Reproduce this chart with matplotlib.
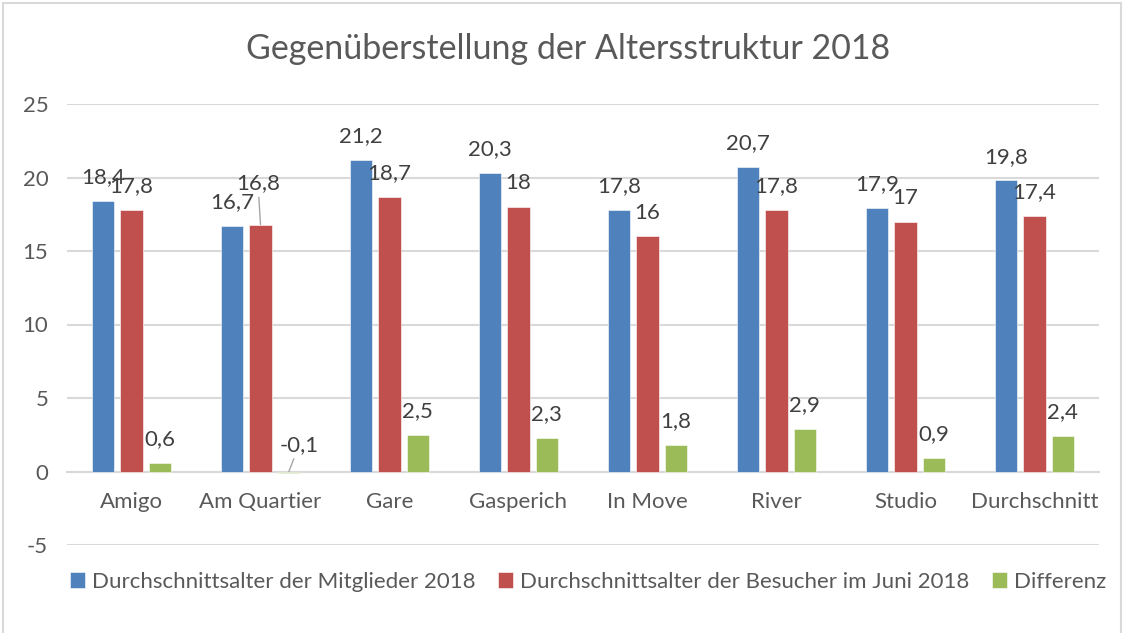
import numpy as np
import matplotlib
matplotlib.use("Agg")
import matplotlib.pyplot as plt
from matplotlib.lines import Line2D

kategorien = ["Amigo", "Am Quartier", "Gare", "Gasperich", "In Move", "River", "Studio", "Durchschnitt"]
mitglieder = [18.4, 16.7, 21.2, 20.3, 17.8, 20.7, 17.9, 19.8]
besucher = [17.8, 16.8, 18.7, 18.0, 16.0, 17.8, 17.0, 17.4]
differenz = [0.6, -0.1, 2.5, 2.3, 1.8, 2.9, 0.9, 2.4]
serien = ["Durchschnittsalter der Mitglieder 2018",
          "Durchschnittsalter der Besucher im Juni 2018",
          "Differenz"]
farben = ["#4F81BD", "#C0504D", "#9BBB59"]

plt.rcParams['font.family'] = ['Lato', 'DejaVu Sans']
plt.rcParams['axes.unicode_minus'] = False
textfarbe = "#404040"
achsfarbe = "#595959"
gitter = "#d9d9d9"
fs = 16

fig = plt.figure(figsize=(11.24, 6.33), dpi=100)
ax = fig.add_axes([67/1124, 1-545/633, (1099-67)/1124, (545-104)/633])

x = np.arange(len(kategorien))
breite = 0.174
abstand = 0.22

def label(v):
    return ("%g" % v).replace(".", ",")

# manuell verschobene Beschriftungen (Serie, Index) -> Offset in pt, mit Linie
verschoben = {(1, 1): (-1.8, 25.5), (2, 1): (7.5, 15)}

for i, (werte, farbe) in enumerate(zip([mitglieder, besucher, differenz], farben)):
    pos = x + (i - 1) * abstand
    ax.bar(pos, werte, breite, color=farbe, edgecolor="white", linewidth=0.4, label=serien[i], zorder=3)
    for j, (px, v) in enumerate(zip(pos, werte)):
        top = max(v, 0)
        if (i, j) in verschoben:
            dx, dy = verschoben[(i, j)]
            ax.annotate(label(v), (px, top), xytext=(dx, dy), textcoords="offset points",
                        ha="center", va="baseline", fontsize=fs, color=textfarbe,
                        arrowprops=dict(arrowstyle="-", color="#a6a6a6", lw=1,
                                        shrinkA=1, shrinkB=0))
        else:
            ax.annotate(label(v), (px, top), xytext=(0, 12.8), textcoords="offset points",
                        ha="center", va="baseline", fontsize=fs, color=textfarbe)

ax.set_xlim(-0.5, len(kategorien) - 0.5)
ax.set_ylim(-5, 25)
ax.set_yticks(np.arange(-5, 26, 5))
ax.yaxis.grid(True, color=gitter, lw=1.5, zorder=0)
ax.set_axisbelow(True)
for s in ["left", "right", "top"]:
    ax.spines[s].set_visible(False)
ax.spines["bottom"].set_position(("data", 0))
ax.spines["bottom"].set_color(gitter)
ax.spines["bottom"].set_linewidth(1.5)
ax.set_xticks(x)
ax.set_xticklabels(kategorien)
ax.tick_params(axis="x", length=0, pad=15, labelsize=fs, labelcolor=achsfarbe)
ax.tick_params(axis="y", length=0, pad=13.5, labelsize=fs, labelcolor=achsfarbe)

fig.text(568/1124, 1-49/633, "Gegenüberstellung der Altersstruktur 2018", ha="center", va="center",
         fontsize=24.5, color=achsfarbe)

handles, labels = ax.get_legend_handles_labels()
fig.legend(handles, labels, loc="center", bbox_to_anchor=(588/1124, 1-582/633), ncol=3,
           frameon=False, fontsize=fs, handlelength=0.7, handleheight=0.7,
           handletextpad=0.3, columnspacing=1.0, labelcolor=achsfarbe)

# Rahmen des Diagramms
fig.add_artist(Line2D([3/1124, 3/1124], [0, 1-3/633], color=gitter, lw=1.5))
fig.add_artist(Line2D([3/1124, 1121/1124], [1-3/633, 1-3/633], color=gitter, lw=1.5))
fig.add_artist(Line2D([1121/1124, 1121/1124], [0, 1-3/633], color=gitter, lw=1.5))

fig.savefig("out.png", dpi=100)
